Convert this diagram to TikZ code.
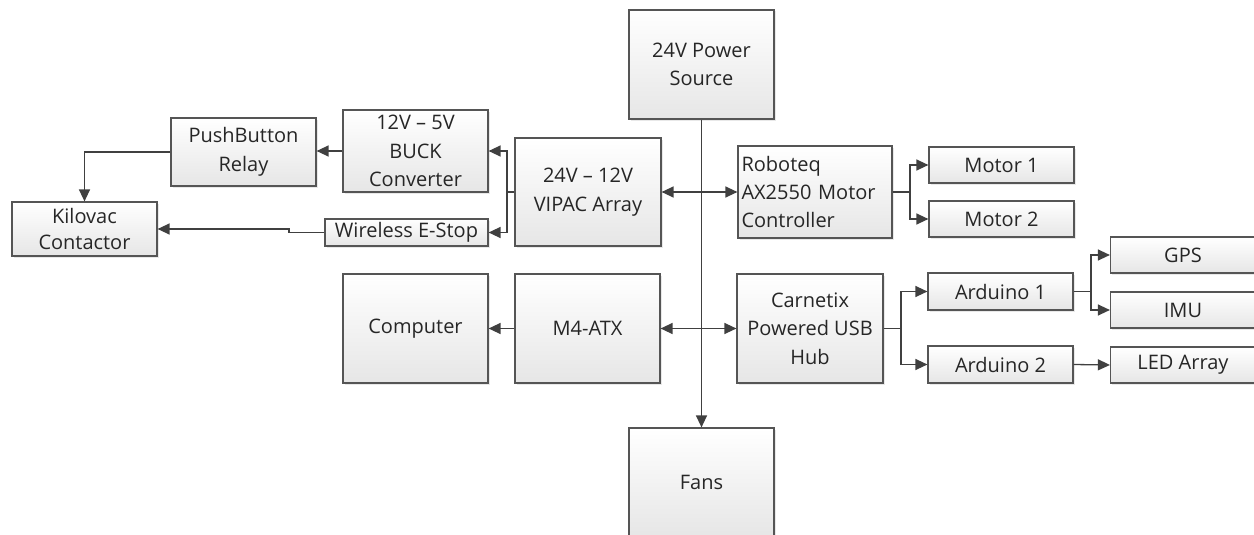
\documentclass[tikz,border=0pt]{standalone}
\usepackage{fontspec}
\setmainfont{Open Sans}
\usetikzlibrary{arrows.meta,shadows}
\definecolor{edge}{HTML}{555555}
\definecolor{wire}{HTML}{404040}
\definecolor{boxbot}{HTML}{E6E6E6}
\definecolor{txt}{HTML}{262626}
\tikzset{
  blk/.style={draw=edge, line width=1.2pt, rectangle, inner sep=0pt, align=center,
    top color=white, bottom color=boxbot, text=txt,
    drop shadow={shadow xshift=1.5pt, shadow yshift=-1.5pt, opacity=0.18, fill=gray},
    font=\fontsize{20}{28.5}\selectfont},
  wr/.style={draw=wire, line width=1.3pt},
  arr/.style={wr, -{Triangle[length=12pt,width=11pt]}},
  darr/.style={wr, {Triangle[length=12pt,width=11pt]}-{Triangle[length=12pt,width=11pt]}}
}
\begin{document}
\begin{tikzpicture}[x=1pt,y=-1pt]
\useasboundingbox (0,0) rectangle (1254,535);
% nodes
\node[blk, minimum width=145pt, minimum height=109pt] (pwr) at (701.5,64.5) {24V Power\\Source};
\node[blk, minimum width=145pt, minimum height=109pt] (fans) at (701.5,482.5) {Fans};
\node[blk, minimum width=146pt, minimum height=108pt] (vipac) at (588,192) {24V -- 12V\\VIPAC Array};
\node[blk, minimum width=145pt, minimum height=82pt] (buck) at (415.5,151) {12V -- 5V\\BUCK\\Converter};
\node[blk, minimum width=163pt, minimum height=27pt] (estop) at (406.5,232.5) {Wireless E-Stop};
\node[blk, minimum width=145pt, minimum height=68pt] (push) at (243.5,152) {PushButton\\Relay};
\node[blk, minimum width=145pt, minimum height=54pt, font=\fontsize{20}{26}\selectfont] (kilo) at (84.5,229) {Kilovac\\Contactor};
\node[blk, minimum width=154pt, minimum height=92pt, text width=147pt, inner xsep=3.5pt, align=left] (robo) at (815,192) {Roboteq\\AX2550 Motor\\Controller};
\node[blk, minimum width=145pt, minimum height=36pt] (m1) at (1001.5,165) {Motor 1};
\node[blk, minimum width=145pt, minimum height=36pt] (m2) at (1001.5,219) {Motor 2};
\node[blk, minimum width=145pt, minimum height=109pt] (comp) at (415.5,328.5) {Computer};
\node[blk, minimum width=145pt, minimum height=109pt] (m4) at (587.5,328.5) {M4-ATX};
\node[blk, minimum width=146pt, minimum height=109pt] (carn) at (810,328.5) {Carnetix\\Powered USB\\Hub};
\node[blk, minimum width=145pt, minimum height=37pt] (a1) at (1000.5,291.5) {Arduino 1};
\node[blk, minimum width=145pt, minimum height=37pt] (a2) at (1000.5,364.5) {Arduino 2};
\node[blk, minimum width=145pt, minimum height=36pt] (gps) at (1183,255) {GPS};
\node[blk, minimum width=145pt, minimum height=36pt] (imu) at (1183,310) {IMU};
\node[blk, minimum width=145pt, minimum height=36pt] (led) at (1183,365) {LED Array};
% junction coordinates
\coordinate (jv) at (507,192);
\coordinate (je) at (289,232.5);
\coordinate (jr) at (910,192);
\coordinate (jc) at (901,328.5);
\coordinate (ja) at (1091,291.5);
% connectors
\draw[arr] (pwr.south) -- (fans.north);
\draw[darr] (vipac.east) -- (robo.west);
\draw[darr] (m4.east) -- (carn.west);
\draw[wr] (vipac.west) -- (jv);
\draw[arr] (jv) |- (buck.east);
\draw[arr] (jv) |- (estop.east);
\draw[arr] (buck.west) -- (buck.west -| push.east);
\draw[arr] (push.west) -| (kilo.north);
\draw[arr] (estop.west) -- (je) |- (kilo.east);
\draw[wr] (robo.east) -- (jr);
\draw[arr] (jr) |- (m1.west);
\draw[arr] (jr) |- (m2.west);
\draw[arr] (m4.west) -- (comp.east);
\draw[wr] (carn.east) -- (jc);
\draw[arr] (jc) |- (a1.west);
\draw[arr] (jc) |- (a2.west);
\draw[wr] (a1.east) -- (ja);
\draw[arr] (ja) |- (gps.west);
\draw[arr] (ja) |- (imu.west);
\draw[arr] (a2.east) -- (led.west);
\end{tikzpicture}
\end{document}
